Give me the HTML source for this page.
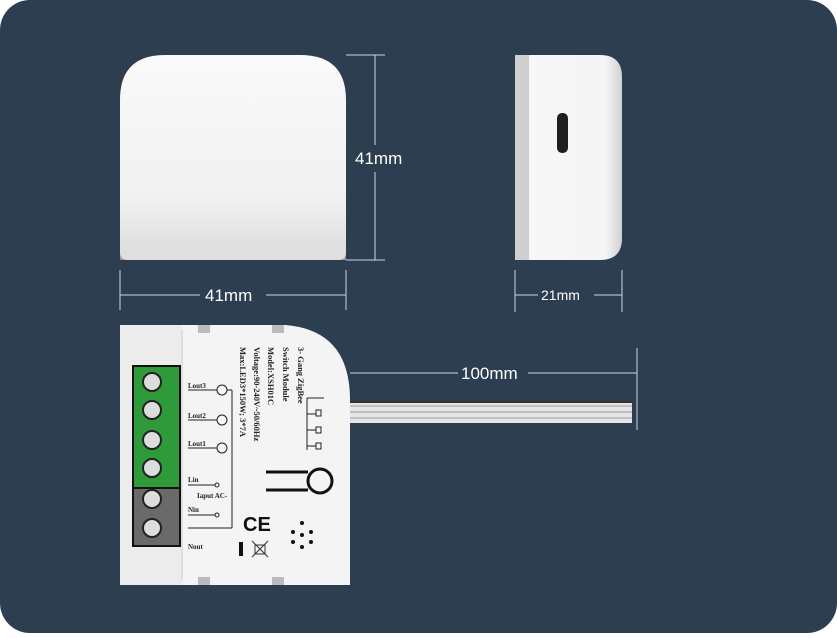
<!DOCTYPE html>
<html><head><style>
html,body{margin:0;padding:0;background:#fff;}
</style></head><body>
<svg width="837" height="633" viewBox="0 0 837 633" xmlns="http://www.w3.org/2000/svg" font-family="Liberation Sans, sans-serif">
<defs>
<linearGradient id="g1" x1="0" y1="0" x2="0" y2="1"><stop offset="0" stop-color="#fafafa"/><stop offset="0.7" stop-color="#f1f1f1"/><stop offset="1" stop-color="#dcdcdc"/></linearGradient>
<linearGradient id="g2" x1="0" y1="0" x2="1" y2="0"><stop offset="0" stop-color="#d8d8d8"/><stop offset="0.15" stop-color="#f7f7f7"/><stop offset="0.85" stop-color="#f4f4f4"/><stop offset="1" stop-color="#d0d0d0"/></linearGradient>
</defs>
<rect x="0" y="0" width="837" height="633" rx="30" fill="#2c3e50"/>
<!-- top device -->
<path d="M120,100 Q120,55 165,55 L300,55 Q346,55 346,100 L346,252 Q346,260 338,260 L128,260 Q120,260 120,252 Z" fill="url(#g1)"/>
<rect x="120" y="240" width="226" height="20" fill="#e0e0e0" opacity="0.6"/>
<!-- dims top -->
<g stroke="#cfd6de" stroke-width="1" fill="none">
<line x1="346" y1="55" x2="385" y2="55"/><line x1="346" y1="260" x2="385" y2="260"/>
<line x1="375" y1="55" x2="375" y2="145"/><line x1="375" y1="172" x2="375" y2="260"/>
<line x1="120" y1="270" x2="120" y2="310"/><line x1="346" y1="270" x2="346" y2="310"/>
<line x1="120" y1="295" x2="200" y2="295"/><line x1="266" y1="295" x2="346" y2="295"/>
<line x1="515" y1="270" x2="515" y2="312"/><line x1="622" y1="270" x2="622" y2="312"/>
<line x1="515" y1="295" x2="538" y2="295"/><line x1="594" y1="295" x2="622" y2="295"/>
<line x1="350" y1="373" x2="458" y2="373"/><line x1="528" y1="373" x2="637" y2="373"/>
<line x1="637" y1="348" x2="637" y2="430"/>
</g>
<g fill="#fff" font-size="17">
<text x="355" y="164">41mm</text>
<text x="205" y="301">41mm</text>
<text x="541" y="300" font-size="14">21mm</text>
<text x="461" y="379">100mm</text>
</g>
<!-- side device -->
<path d="M515,62 Q515,55 522,55 L600,55 Q622,55 622,77 L622,238 Q622,260 600,260 L522,260 Q515,260 515,253 Z" fill="url(#g2)"/>
<rect x="515" y="55" width="14" height="205" fill="#cfcfcf"/>
<rect x="557" y="113" width="11" height="40" rx="5" fill="#1f1f1f"/>
<!-- cable -->
<rect x="348" y="401" width="284" height="22" fill="#e6e6e6"/>
<g stroke="#9a9a9a" stroke-width="1"><line x1="348" y1="406" x2="632" y2="406"/><line x1="348" y1="412" x2="632" y2="412"/><line x1="348" y1="418" x2="632" y2="418"/></g>
<line x1="348" y1="402" x2="632" y2="402" stroke="#333" stroke-width="2"/>
<!-- bottom device -->
<path d="M120,325 L285,325 Q350,330 350,400 L350,585 L120,585 Z" fill="#f4f4f4"/>
<rect x="120" y="325" width="62" height="260" fill="#ececec"/>
<line x1="182" y1="330" x2="182" y2="580" stroke="#ccc"/>
<rect x="198" y="325" width="12" height="8" fill="#bbb"/><rect x="272" y="325" width="12" height="8" fill="#bbb"/>
<rect x="198" y="577" width="12" height="8" fill="#bbb"/><rect x="272" y="577" width="12" height="8" fill="#bbb"/>
<rect x="133" y="366" width="47" height="124" fill="#2f9a3a" stroke="#111" stroke-width="2"/>
<rect x="133" y="488" width="47" height="58" fill="#6a6a6a" stroke="#111" stroke-width="2"/>
<g fill="#ddd" stroke="#222" stroke-width="2">
<circle cx="152" cy="382" r="9"/><circle cx="152" cy="410" r="9"/><circle cx="152" cy="440" r="9"/><circle cx="152" cy="468" r="9"/><circle cx="152" cy="499" r="9"/><circle cx="152" cy="528" r="9"/>
</g>
<g stroke="#222" stroke-width="1" fill="none">
<line x1="188" y1="390" x2="217" y2="390"/><line x1="188" y1="420" x2="217" y2="420"/><line x1="188" y1="448" x2="217" y2="448"/>
<circle cx="222" cy="390" r="5"/><circle cx="222" cy="420" r="5"/><circle cx="222" cy="448" r="5"/>
<line x1="227" y1="390" x2="232" y2="390"/><line x1="232" y1="390" x2="232" y2="528"/><line x1="188" y1="528" x2="232" y2="528"/>
<line x1="188" y1="485" x2="215" y2="485"/><circle cx="217" cy="485" r="2"/>
<line x1="188" y1="515" x2="215" y2="515"/><circle cx="217" cy="515" r="2"/>
<line x1="307" y1="398" x2="307" y2="450"/>
<line x1="307" y1="398" x2="324" y2="398"/><line x1="307" y1="414" x2="316" y2="414"/><line x1="307" y1="430" x2="316" y2="430"/><line x1="307" y1="446" x2="316" y2="446"/>
<rect x="316" y="410" width="5" height="6"/><rect x="316" y="427" width="5" height="6"/><rect x="316" y="443" width="5" height="6"/>
</g>
<g font-family="Liberation Serif, serif" font-size="7" fill="#222" font-weight="bold">
<text x="188" y="388">Lout3</text><text x="188" y="418">Lout2</text><text x="188" y="446">Lout1</text>
<text x="188" y="482">Lin</text><text x="197" y="498">Iaput AC-</text><text x="188" y="512">Nin</text><text x="188" y="549">Nout</text>
</g>
<g font-family="Liberation Serif, serif" font-size="8.5" fill="#222" font-weight="bold">
<text transform="translate(298,347) rotate(90)">3- Gang ZigBee</text>
<text transform="translate(283,347) rotate(90)">Switch Module</text>
<text transform="translate(268,347) rotate(90)">Model:XSH01C</text>
<text transform="translate(254,347) rotate(90)">Voltage:90-240V~50/60Hz</text>
<text transform="translate(240,347) rotate(90)">Max:LED3*150W; 3*7A</text>
</g>
<path d="M266,472 L308,472 M266,490 L308,490" stroke="#111" stroke-width="3"/>
<circle cx="320" cy="481" r="12" fill="#f4f4f4" stroke="#111" stroke-width="3"/>
<text x="243" y="531" font-size="20" fill="#111" font-weight="bold">CE</text>
<g fill="#111"><circle cx="302" cy="523" r="2"/><circle cx="293" cy="532" r="2"/><circle cx="302" cy="535" r="2"/><circle cx="311" cy="532" r="2"/><circle cx="302" cy="547" r="2"/><circle cx="293" cy="542" r="2"/><circle cx="311" cy="542" r="2"/><circle cx="289" cy="537" r="0"/></g>
<rect x="239" y="542" width="4" height="14" fill="#111"/>
<path d="M252,541 L268,557 M268,541 L252,557" stroke="#333"/><rect x="255" y="545" width="10" height="9" fill="none" stroke="#333"/>
</svg>
</body></html>
